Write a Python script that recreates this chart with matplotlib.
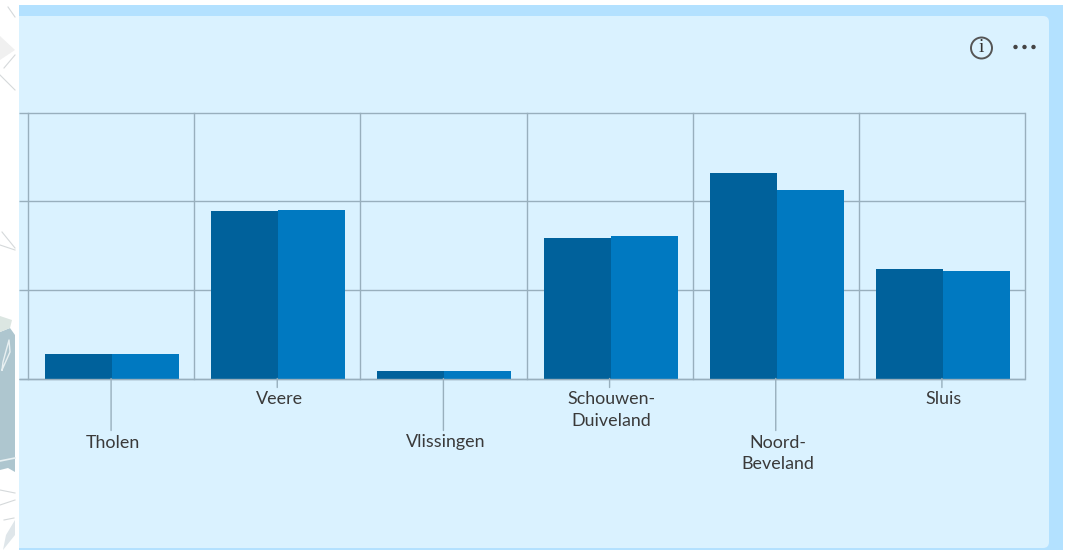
import matplotlib
matplotlib.use('Agg')
import matplotlib.pyplot as plt
from matplotlib.patches import FancyBboxPatch, Rectangle, Polygon, Circle

# values (grid step = 1 unit, the axis labels are cut off in the source)
gemeenten = ['Tholen', 'Veere', 'Vlissingen', 'Schouwen-\nDuiveland', 'Noord-\nBeveland', 'Sluis']
serie_a = [0.28, 1.89, 0.08, 1.59, 2.32, 1.23]
serie_b = [0.28, 1.90, 0.09, 1.61, 2.13, 1.21]
# labels that are staggered get a long leader line
verspringend = [True, False, True, False, True, False]

W, H = 1068, 550
GRID = '#98afbd'
TEXT = '#3a3a3a'

plt.rcParams['font.family'] = ['Lato', 'DejaVu Sans']

fig = plt.figure(figsize=(W / 100, H / 100), dpi=100, facecolor='white')

# ==================== page background, in pixel coords ====================
bg = fig.add_axes([0, 0, 1, 1])
bg.set_xlim(0, W)
bg.set_ylim(H, 0)
bg.axis('off')
bg.add_patch(Rectangle((19, 5), 1044, 545, fc='#b3e1ff', ec='none'))
bg.add_patch(FancyBboxPatch((19, 16), 1030, 532, boxstyle='round,pad=0,rounding_size=6',
                            fc='#daf2ff', ec='none'))
bg.add_patch(Rectangle((19, 16), 10, 532, fc='#daf2ff', ec='none'))

# map fragment on the left edge
bg.add_patch(Polygon([(0, 332), (10, 328), (15, 335), (15, 472), (8, 468), (0, 470)],
                     fc='#aec6cf', ec='none'))
bg.add_patch(Polygon([(0, 316), (12, 320), (10, 328), (0, 332)], fc='#dce6e2', ec='none'))
bg.add_patch(Polygon([(0, 36), (15, 50), (0, 60)], fc='#f0f0f0', ec='none'))
bg.add_patch(Polygon([(3, 550), (15, 535), (15, 520), (6, 535)], fc='#dfe6ea', ec='none'))
bg.plot([2, 10, 9, 3, 2], [370, 352, 340, 362, 370], color='#e8f0f2', lw=1.0)
bg.plot([0, 15], [461, 458], color='#e8f0f2', lw=1.2)
for line_x, line_y in [([8, 15], [7, 17]), ([0, 15], [75, 90]), ([15, 4], [55, 68]),
                       ([0, 15], [245, 250]), ([2, 15], [232, 248]), ([0, 15], [490, 493]),
                       ([0, 15], [505, 500]), ([4, 14], [520, 518])]:
    bg.plot(line_x, line_y, color='#d5d9db', lw=0.8)

# info icon and menu dots
bg.add_patch(Circle((981.5, 48), 10.5, fc='none', ec='#555555', lw=1.4))
bg.text(981.5, 48, 'i', ha='center', va='center', fontsize=14, color='#333333',
        family=['Liberation Serif'])
for dot_x in [1015.5, 1024.5, 1033.5]:
    bg.add_patch(Circle((dot_x, 47), 2.2, fc='#444444', ec='none'))

# ==================== chart ====================
x0, x1, y_top, y_base = 28, 1025, 113, 379
ax = fig.add_axes([x0 / W, 1 - (y_base - 0.5) / H, (x1 - x0) / W, (y_base - y_top) / H])
ax.patch.set_alpha(0)
ax.set_xlim(0, 6)
ax.set_ylim(0, 3)
for spine in ax.spines.values():
    spine.set_visible(False)
ax.tick_params(length=0, labelleft=False, labelbottom=False)

# grid, horizontal lines run on a bit left until the panel edge
px = (x1 - x0) / 6
for y in range(4):
    ax.plot([-9 / px, 6], [y, y], color=GRID, lw=1.0, clip_on=False, zorder=1, solid_capstyle='butt')
for x in range(7):
    ax.plot([x, x], [0, 3], color=GRID, lw=1.0, clip_on=False, zorder=1, solid_capstyle='projecting')

pos = [i + 0.5 for i in range(len(gemeenten))]
bar_w = 0.403
shift = 1 / px  # bars sit a pixel right of the cell centre
ax.bar([p - bar_w / 2 + shift for p in pos], serie_a, width=bar_w, color='#00619b', zorder=2)
ax.bar([p + bar_w / 2 + shift for p in pos], serie_b, width=bar_w, color='#0079c1', zorder=2)
ax.plot([-9 / px, 6], [0, 0], color=GRID, lw=1.0, clip_on=False, zorder=3, solid_capstyle='butt')

# labels with leader lines
for p, naam, lang in zip(pos, gemeenten, verspringend):
    lead = 52 if lang else 9
    ax.annotate('', xy=(p, 0), xytext=(0, -lead), textcoords='offset pixels',
                arrowprops=dict(arrowstyle='-', color=GRID, lw=1.0, shrinkA=0, shrinkB=0))
    ax.annotate(naam, xy=(p, 0), xytext=(2, -lead - 4), textcoords='offset pixels',
                ha='center', va='top', fontsize=12.9, color=TEXT, linespacing=1.43)

fig.savefig('out.png', dpi=100)
